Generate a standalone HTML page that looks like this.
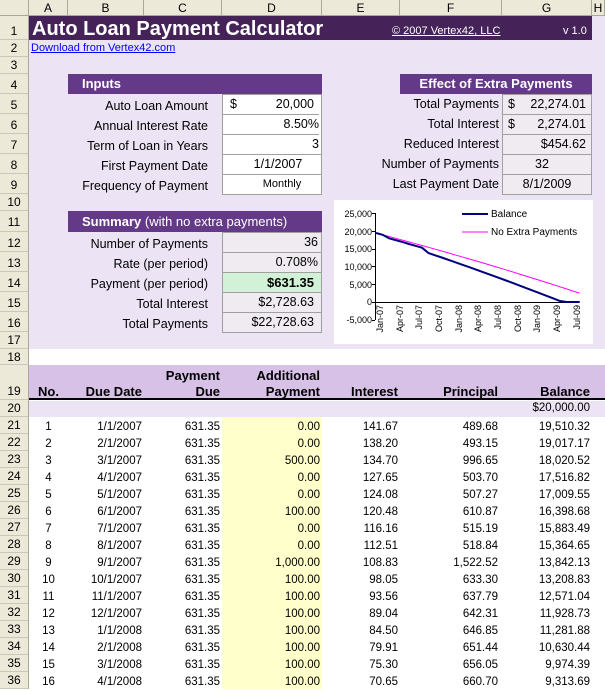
<!DOCTYPE html>
<html><head><meta charset="utf-8"><style>
*{margin:0;padding:0;box-sizing:border-box}
body{width:605px;height:688px;overflow:hidden;position:relative;background:#fff;font-family:"Liberation Sans",sans-serif;font-size:12.5px;color:#000}
div{position:absolute;white-space:nowrap}
.rh{left:0;width:29px;background:#ece9d8;border-right:1px solid #aca899;border-bottom:1px solid #c9c7ba;text-align:center;font-size:12px}
.ch{top:0;height:16px;background:#ece9d8;border-right:1px solid #aca899;border-bottom:1px solid #aca899;text-align:center;line-height:16px;font-size:12px}
.lab{text-align:right;left:58px;width:150px;line-height:20px}
.box{background:#fff;border:1px solid #a0a0a0;line-height:19px;padding:0 4px;text-align:right}
.gbox{background:#efebf1;border:1px solid #a0a0a0;line-height:19px;padding:0 4px;text-align:right}
.hd{background:#643a88;color:#fff;font-weight:bold;font-size:13px;line-height:20px}
.r{text-align:right}
.b{font-weight:bold}
</style></head><body>
<div style="left:29px;top:16px;width:576px;height:333px;background:#ece4f4"></div>
<div style="left:29px;top:16px;width:563px;height:24px;background:#452358"></div>
<div style="left:29px;top:365px;width:576px;height:35px;background:#d7c1e6;border-bottom:2px solid #000"></div>
<div style="left:29px;top:401px;width:576px;height:16px;background:#ece4f4"></div>
<div style="left:222px;top:417px;width:100px;height:272px;background:#ffffcc"></div>
<div class="ch" style="left:0;width:29px"></div>
<div class="ch" style="left:29px;width:39px">A</div>
<div class="ch" style="left:68px;width:76px">B</div>
<div class="ch" style="left:144px;width:78px">C</div>
<div class="ch" style="left:222px;width:100px">D</div>
<div class="ch" style="left:322px;width:78px">E</div>
<div class="ch" style="left:400px;width:102px">F</div>
<div class="ch" style="left:502px;width:90px">G</div>
<div class="ch" style="left:592px;width:13px">H</div>
<div class="rh" style="top:16px;height:24px;line-height:30px">1</div>
<div class="rh" style="top:40px;height:17px;line-height:17px">2</div>
<div class="rh" style="top:57px;height:17px;line-height:17px">3</div>
<div class="rh" style="top:74px;height:20px;line-height:22px">4</div>
<div class="rh" style="top:94px;height:20px;line-height:22px">5</div>
<div class="rh" style="top:114px;height:20px;line-height:22px">6</div>
<div class="rh" style="top:134px;height:20px;line-height:22px">7</div>
<div class="rh" style="top:154px;height:20px;line-height:22px">8</div>
<div class="rh" style="top:174px;height:20px;line-height:22px">9</div>
<div class="rh" style="top:194px;height:17px;line-height:17px">10</div>
<div class="rh" style="top:211px;height:21px;line-height:23px">11</div>
<div class="rh" style="top:232px;height:20px;line-height:22px">12</div>
<div class="rh" style="top:252px;height:20px;line-height:22px">13</div>
<div class="rh" style="top:272px;height:20px;line-height:22px">14</div>
<div class="rh" style="top:292px;height:20px;line-height:22px">15</div>
<div class="rh" style="top:312px;height:20px;line-height:22px">16</div>
<div class="rh" style="top:332px;height:17px;line-height:17px">17</div>
<div class="rh" style="top:349px;height:16px;line-height:16px">18</div>
<div class="rh" style="top:365px;height:35px;line-height:52px">19</div>
<div class="rh" style="top:400px;height:17px;line-height:17px">20</div>
<div class="rh" style="top:417px;height:17px;line-height:17px">21</div>
<div class="rh" style="top:434px;height:17px;line-height:17px">22</div>
<div class="rh" style="top:451px;height:17px;line-height:17px">23</div>
<div class="rh" style="top:468px;height:17px;line-height:17px">24</div>
<div class="rh" style="top:485px;height:17px;line-height:17px">25</div>
<div class="rh" style="top:502px;height:17px;line-height:17px">26</div>
<div class="rh" style="top:519px;height:17px;line-height:17px">27</div>
<div class="rh" style="top:536px;height:17px;line-height:17px">28</div>
<div class="rh" style="top:553px;height:17px;line-height:17px">29</div>
<div class="rh" style="top:570px;height:17px;line-height:17px">30</div>
<div class="rh" style="top:587px;height:17px;line-height:17px">31</div>
<div class="rh" style="top:604px;height:17px;line-height:17px">32</div>
<div class="rh" style="top:621px;height:17px;line-height:17px">33</div>
<div class="rh" style="top:638px;height:17px;line-height:17px">34</div>
<div class="rh" style="top:655px;height:17px;line-height:17px">35</div>
<div class="rh" style="top:672px;height:17px;line-height:17px">36</div>
<div style="left:32px;top:17px;color:#fff;font-weight:bold;font-size:20px;line-height:24px">Auto Loan Payment Calculator</div>
<div style="left:392px;top:25px;color:#fff;font-size:11px;text-decoration:underline">© 2007 Vertex42, LLC</div>
<div style="left:563px;top:25px;color:#fff;font-size:11px">v 1.0</div>
<div style="left:31px;top:42px;color:#0000ff;font-size:11px;text-decoration:underline">Download from Vertex42.com</div>
<div class="hd" style="left:68px;top:74px;width:254px;height:20px;padding-left:14px">Inputs</div>
<div class="lab" style="top:96px">Auto Loan Amount</div>
<div class="lab" style="top:116px">Annual Interest Rate</div>
<div class="lab" style="top:136px">Term of Loan in Years</div>
<div class="lab" style="top:156px">First Payment Date</div>
<div class="lab" style="top:176px">Frequency of Payment</div>
<div class="box" style="left:222px;top:94px;width:100px;height:101px;padding:0"></div>
<div style="left:230px;top:97px">$</div>
<div class="r" style="left:222px;top:97px;width:92px">20,000</div>
<div class="r" style="left:222px;top:114px;width:97px;border-top:1px solid #a0a0a0;padding-top:2px">8.50%</div>
<div class="r" style="left:222px;top:134px;width:97px;border-top:1px solid #a0a0a0;padding-top:2px">3</div>
<div style="left:222px;top:154px;width:100px;border-top:1px solid #a0a0a0;padding-top:2px;text-align:center;padding-left:12px">1/1/2007</div>
<div style="left:222px;top:174px;width:100px;border-top:1px solid #a0a0a0;padding-top:3px;text-align:center;padding-left:20px;font-size:11px">Monthly</div>
<div class="hd" style="left:400px;top:74px;width:192px;height:20px;text-align:center">Effect of Extra Payments</div>
<div class="r" style="left:380px;top:97px;width:119px">Total Payments</div>
<div class="r" style="left:380px;top:117px;width:119px">Total Interest</div>
<div class="r" style="left:380px;top:137px;width:119px">Reduced Interest</div>
<div class="r" style="left:370px;top:157px;width:129px">Number of Payments</div>
<div class="r" style="left:370px;top:177px;width:129px">Last Payment Date</div>
<div class="gbox" style="left:502px;top:94px;width:90px;height:101px;padding:0"></div>
<div style="left:508px;top:97px">$</div><div class="r" style="left:502px;top:97px;width:84px">22,274.01</div>
<div style="left:502px;top:114px;width:90px;border-top:1px solid #a0a0a0"></div>
<div style="left:508px;top:117px">$</div><div class="r" style="left:502px;top:117px;width:84px">2,274.01</div>
<div style="left:502px;top:134px;width:90px;border-top:1px solid #a0a0a0"></div>
<div class="r" style="left:502px;top:137px;width:84px">$454.62</div>
<div style="left:502px;top:154px;width:90px;border-top:1px solid #a0a0a0"></div>
<div style="left:502px;top:157px;width:80px;text-align:center">32</div>
<div style="left:502px;top:174px;width:90px;border-top:1px solid #a0a0a0"></div>
<div style="left:502px;top:177px;width:90px;text-align:center">8/1/2009</div>
<div class="hd" style="left:68px;top:211px;width:254px;height:21px;padding-left:14px;line-height:21px">Summary <span style="font-weight:normal">(with no extra payments)</span></div>
<div class="lab" style="top:234px">Number of Payments</div>
<div class="lab" style="top:254px">Rate (per period)</div>
<div class="lab" style="top:274px">Payment (per period)</div>
<div class="lab" style="top:294px">Total Interest</div>
<div class="lab" style="top:314px">Total Payments</div>
<div class="gbox" style="left:222px;top:232px;width:100px;height:101px;padding:0"></div>
<div style="left:223px;top:272px;width:98px;height:20px;background:#d2f2d8"></div>
<div class="r" style="left:222px;top:235px;width:96px">36</div>
<div style="left:222px;top:252px;width:100px;border-top:1px solid #a0a0a0"></div>
<div class="r" style="left:222px;top:255px;width:96px">0.708%</div>
<div style="left:222px;top:272px;width:100px;border-top:1px solid #a0a0a0"></div>
<div class="r b" style="left:222px;top:275px;width:92px;font-size:13px">$631.35</div>
<div style="left:222px;top:292px;width:100px;border-top:1px solid #a0a0a0"></div>
<div class="r" style="left:222px;top:295px;width:92px">$2,728.63</div>
<div style="left:222px;top:312px;width:100px;border-top:1px solid #a0a0a0"></div>
<div class="r" style="left:222px;top:315px;width:92px">$22,728.63</div>
<svg style="position:absolute;left:334px;top:200px" width="259" height="144" viewBox="334 200 259 144">
<rect x="334" y="200" width="259" height="144" fill="#fff"/>
<g font-family="Liberation Sans" font-size="9" text-anchor="end">
<text x="372" y="217">25,000</text><text x="372" y="235">20,000</text><text x="372" y="252">15,000</text>
<text x="372" y="270">10,000</text><text x="372" y="288">5,000</text><text x="372" y="305">0</text><text x="372" y="323">-5,000</text>
</g>
<g stroke="#000" stroke-width="1">
<line x1="375.5" y1="213" x2="375.5" y2="320"/><line x1="375" y1="302.5" x2="579" y2="302.5"/>
<line x1="372" y1="213.5" x2="375" y2="213.5"/><line x1="372" y1="231.5" x2="375" y2="231.5"/><line x1="372" y1="249.5" x2="375" y2="249.5"/><line x1="372" y1="266.5" x2="375" y2="266.5"/><line x1="372" y1="284.5" x2="375" y2="284.5"/><line x1="372" y1="302.5" x2="375" y2="302.5"/><line x1="372" y1="320.5" x2="375" y2="320.5"/>
</g>
<g font-family="Liberation Sans" font-size="9" text-anchor="end">
<text transform="translate(383,305) rotate(-90)">Jan-07</text>
<text transform="translate(403,305) rotate(-90)">Apr-07</text>
<text transform="translate(422,305) rotate(-90)">Jul-07</text>
<text transform="translate(442,305) rotate(-90)">Oct-07</text>
<text transform="translate(462,305) rotate(-90)">Jan-08</text>
<text transform="translate(481,305) rotate(-90)">Apr-08</text>
<text transform="translate(501,305) rotate(-90)">Jul-08</text>
<text transform="translate(521,305) rotate(-90)">Oct-08</text>
<text transform="translate(540,305) rotate(-90)">Jan-09</text>
<text transform="translate(560,305) rotate(-90)">Apr-09</text>
<text transform="translate(580,305) rotate(-90)">Jul-09</text>
</g>
<polyline id="pnk" fill="none" stroke="#ff00ff" stroke-width="1" points=""/>
<polyline id="bal" fill="none" stroke="#000080" stroke-width="2" points=""/>
<line x1="462" y1="214" x2="488" y2="214" stroke="#000080" stroke-width="2"/>
<line x1="462" y1="232" x2="488" y2="232" stroke="#ff00ff" stroke-width="1"/>
<text x="491" y="217" font-family="Liberation Sans" font-size="10">Balance</text>
<text x="491" y="235" font-family="Liberation Sans" font-size="10">No Extra Payments</text>
</svg>
<script>
(function(){var r=0.085/12,p=631.35,b=20000,b2=20000,ex=[0,0,500,0,0,100,0,0,1000],a=[],c=[];
for(var i=0;i<32;i++){var e=i<9?ex[i]:100;var it=b*r;var pr=Math.min(b,p-it+e);b-=pr;b2-=(p-b2*r);
var x=376+6.57*i;a.push(x.toFixed(1)+","+(302-b*0.003536).toFixed(1));c.push(x.toFixed(1)+","+(302-b2*0.003536).toFixed(1));}
document.getElementById('bal').setAttribute('points',a.join(' '));document.getElementById('pnk').setAttribute('points',c.join(' '));})();
</script>
<div class="b r" style="left:130px;top:368px;width:90px;font-size:13px">Payment</div>
<div class="b r" style="left:220px;top:368px;width:100px;font-size:13px">Additional</div>
<div class="b" style="left:29px;top:384px;width:39px;text-align:center;font-size:13px">No.</div>
<div class="b r" style="left:68px;top:384px;width:74px;font-size:13px">Due Date</div>
<div class="b r" style="left:144px;top:384px;width:76px;font-size:13px">Due</div>
<div class="b r" style="left:222px;top:384px;width:98px;font-size:13px">Payment</div>
<div class="b r" style="left:322px;top:384px;width:76px;font-size:13px">Interest</div>
<div class="b r" style="left:400px;top:384px;width:98px;font-size:13px">Principal</div>
<div class="b r" style="left:502px;top:384px;width:88px;font-size:13px">Balance</div>
<div class="r" style="left:502px;top:402px;width:88px;font-size:11.5px">$20,000.00</div>
<div style="left:29px;top:419px;width:39px;line-height:17px;text-align:center;font-size:11.5px">1<br>2<br>3<br>4<br>5<br>6<br>7<br>8<br>9<br>10<br>11<br>12<br>13<br>14<br>15<br>16</div>
<div class="r" style="left:68px;top:419px;width:74px;line-height:17px;font-size:11.5px">1/1/2007<br>2/1/2007<br>3/1/2007<br>4/1/2007<br>5/1/2007<br>6/1/2007<br>7/1/2007<br>8/1/2007<br>9/1/2007<br>10/1/2007<br>11/1/2007<br>12/1/2007<br>1/1/2008<br>2/1/2008<br>3/1/2008<br>4/1/2008</div>
<div class="r" style="left:144px;top:419px;width:76px;line-height:17px;font-size:11.5px">631.35<br>631.35<br>631.35<br>631.35<br>631.35<br>631.35<br>631.35<br>631.35<br>631.35<br>631.35<br>631.35<br>631.35<br>631.35<br>631.35<br>631.35<br>631.35</div>
<div class="r" style="left:222px;top:419px;width:98px;line-height:17px;font-size:11.5px">0.00<br>0.00<br>500.00<br>0.00<br>0.00<br>100.00<br>0.00<br>0.00<br>1,000.00<br>100.00<br>100.00<br>100.00<br>100.00<br>100.00<br>100.00<br>100.00</div>
<div class="r" style="left:322px;top:419px;width:76px;line-height:17px;font-size:11.5px">141.67<br>138.20<br>134.70<br>127.65<br>124.08<br>120.48<br>116.16<br>112.51<br>108.83<br>98.05<br>93.56<br>89.04<br>84.50<br>79.91<br>75.30<br>70.65</div>
<div class="r" style="left:400px;top:419px;width:98px;line-height:17px;font-size:11.5px">489.68<br>493.15<br>996.65<br>503.70<br>507.27<br>610.87<br>515.19<br>518.84<br>1,522.52<br>633.30<br>637.79<br>642.31<br>646.85<br>651.44<br>656.05<br>660.70</div>
<div class="r" style="left:502px;top:419px;width:88px;line-height:17px;font-size:11.5px">19,510.32<br>19,017.17<br>18,020.52<br>17,516.82<br>17,009.55<br>16,398.68<br>15,883.49<br>15,364.65<br>13,842.13<br>13,208.83<br>12,571.04<br>11,928.73<br>11,281.88<br>10,630.44<br>9,974.39<br>9,313.69</div>
</body></html>
